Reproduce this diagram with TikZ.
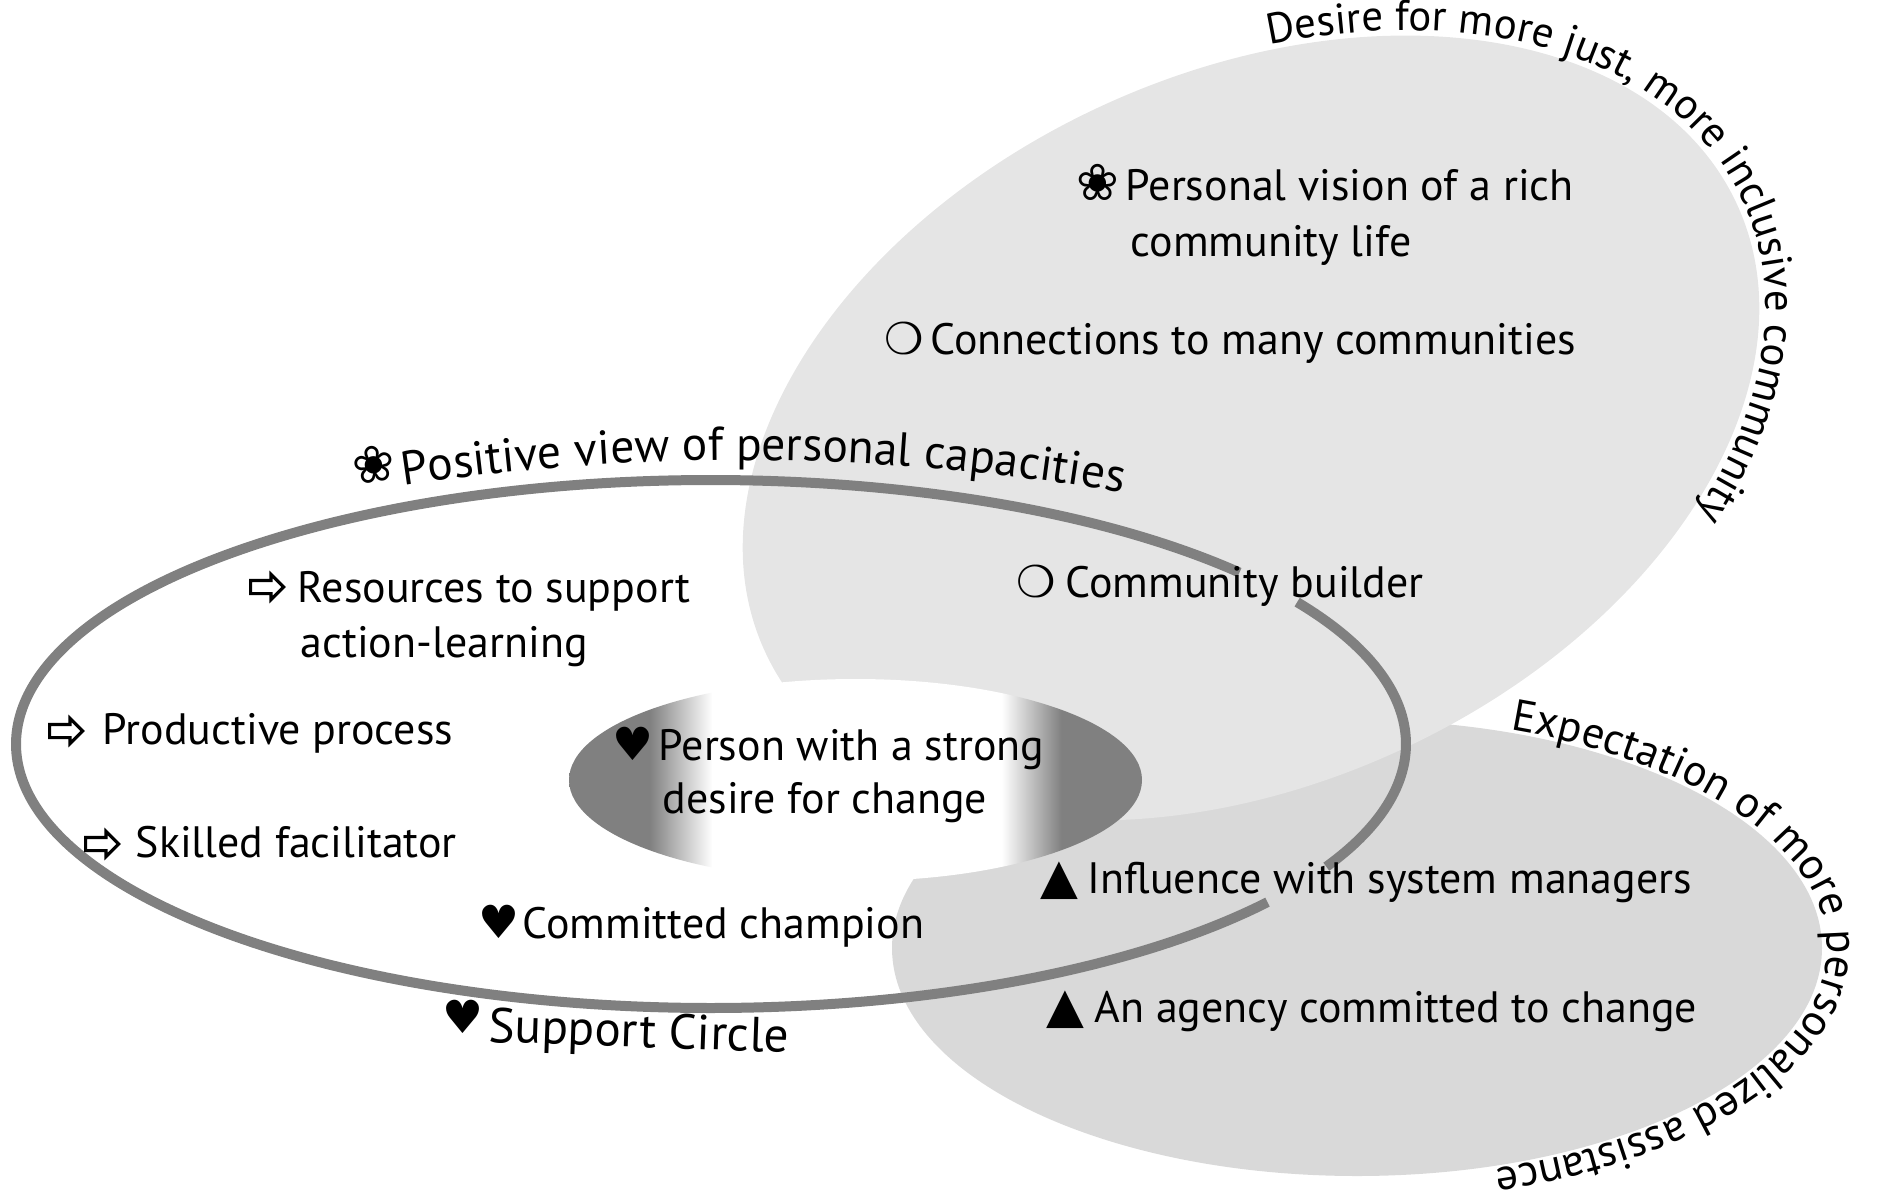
\documentclass[tikz,border=0pt]{standalone}
\usepackage{fontspec}
\setmainfont{PT Sans}
\newfontfamily\symf{DejaVu Sans}
\usetikzlibrary{decorations.text,shapes.arrows}
\definecolor{topfill}{gray}{0.90}
\definecolor{botfill}{gray}{0.85}
\definecolor{ringc}{gray}{0.5}
\pgfdeclarehorizontalshading{coreshade}{100bp}{color(0bp)=(ringc); color(32bp)=(ringc); color(37.5bp)=(white); color(62.75bp)=(white); color(68bp)=(ringc); color(100bp)=(ringc)}
\begin{document}
\begin{tikzpicture}[
  itm/.style={anchor=base west, inner sep=0pt, font=\fontsize{12.5}{14}\selectfont},
  sym/.style={anchor=base west, inner sep=0pt, font=\symf\fontsize{#1}{14}\selectfont},
  arrowbullet/.style={single arrow, draw=black, fill=white, line width=0.9pt, inner sep=0.05cm,
    minimum height=0.33cm, single arrow head extend=0.06cm, anchor=west},
  ringline/.style={draw=ringc, line width=0.10cm},
  curvetext/.style={decorate, decoration={text along path, text align=left, text={#1}}}
]
\useasboundingbox (0,0) rectangle (18.79,-11.98);
% lower-right ellipse
\fill[botfill] (13.57,-9.48) ellipse [x radius=4.65cm, y radius=2.28cm];
% upper-right ellipse
\fill[topfill, rotate around={24.7:(12.51,-4.28)}] (12.51,-4.28) ellipse [x radius=5.35cm, y radius=3.55cm];
% core ellipse
\shade[shading=coreshade] (8.555,-7.80) ellipse [x radius=2.865cm, y radius=1.01cm];
% support ring (two arcs with gaps)
\draw[ringline] (7.11,-7.44) ++(40.5:6.95cm and 2.64cm) arc[start angle=40.5, end angle=323.2, x radius=6.95cm, y radius=2.64cm];
\draw[ringline] (7.11,-7.44) ++(-27.7:6.95cm and 2.64cm) arc[start angle=-27.7, end angle=32.5, x radius=6.95cm, y radius=2.64cm];

% curved labels
\path[curvetext={|\fontsize{12.2}{15}\selectfont|Desire for more just, more inclusive community}]
  plot[domain=-71:80, samples=152, variable=\t]
  ({12.51 + 5.42*cos(\t)*cos(24.7) + 3.60*sin(\t)*sin(24.7)},
   {-4.28 + 5.42*cos(\t)*sin(24.7) - 3.60*sin(\t)*cos(24.7)});
\path[curvetext={|\fontsize{12.6}{15}\selectfont|Expectation of more personalized assistance}]
  (13.57,-9.48) ++(71:4.70cm and 2.31cm) arc[start angle=71, end angle=-110, x radius=4.70cm, y radius=2.31cm];
\node[sym=14.5, rotate=9] (pvsym) at (3.55,-4.86) {❀};
\path[curvetext={|\fontsize{13.5}{16}\selectfont|Positive view of personal capacities}]
  (7.40,-27.10) ++(98.6:22.5cm) arc[start angle=98.6, end angle=74, radius=22.5cm];

% upper-right ellipse items
\node[sym=14.5] (s1) at (10.76,-2.00) {❀};
\node[itm] (t1a) at (11.25,-2.00) {Personal vision of a rich};
\node[itm] (t1b) at (11.30,-2.56) {community life};
\node[sym=12.5] (s2) at (8.84,-3.54) {❍};
\node[itm] (t2) at (9.30,-3.54) {Connections to many communities};
\node[sym=12.5] (s3) at (10.16,-5.97) {❍};
\node[itm] (t3) at (10.65,-5.97) {Community builder};
% lower-right ellipse items
\node[sym=14] (s4) at (10.40,-8.93) {▲};
\node[itm] (t4) at (10.87,-8.93) {Influence with system managers};
\node[sym=14] (s5) at (10.46,-10.22) {▲};
\node[itm] (t5) at (10.94,-10.22) {An agency committed to change};
% ring items
\node[arrowbullet] (s6) at (2.49,-5.87) {};
\node[itm] (t6a) at (2.97,-6.02) {Resources to support};
\node[itm] (t6b) at (3.00,-6.57) {action-learning};
\node[arrowbullet] (s7) at (0.48,-7.31) {};
\node[itm] (t7) at (1.02,-7.44) {Productive process};
\node[arrowbullet] (s8) at (0.84,-8.44) {};
\node[itm] (t8) at (1.35,-8.57) {Skilled facilitator};
\node[sym=13] (s9) at (4.78,-9.38) {♥};
\node[itm] (t9) at (5.22,-9.38) {Committed champion};
% core items
\node[sym=13] (s10) at (6.12,-7.60) {♥};
\node[itm] (t10a) at (6.58,-7.60) {Person with a strong};
\node[itm] (t10b) at (6.62,-8.13) {desire for change};
% support circle label
\node[sym=13] (s11) at (4.42,-10.33) {♥};
\node[itm, rotate=-2, font=\fontsize{14}{16}\selectfont] (t11) at (4.88,-10.42) {Support Circle};
\end{tikzpicture}
\end{document}
